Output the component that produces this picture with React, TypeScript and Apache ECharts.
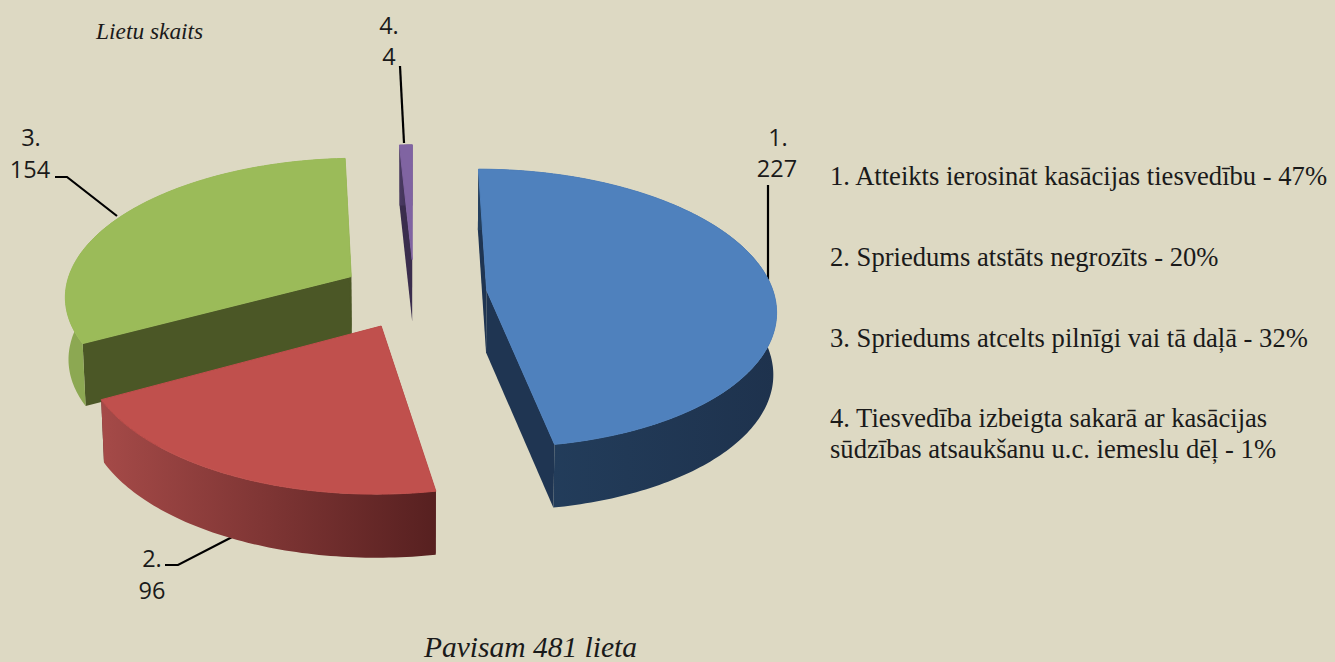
import React, { useEffect, useRef } from "react";
import * as echarts from "echarts";

const sliceNames = ["1.", "2.", "3.", "4."];
const sliceValues = [227, 96, 154, 4];
const legendLines = [
  "1. Atteikts ierosināt kasācijas tiesvedību - 47%",
  "2. Spriedums atstāts negrozīts - 20%",
  "3. Spriedums atcelts pilnīgi vai tā daļā - 32%",
  "4. Tiesvedība izbeigta sakarā ar kasācijas",
  "sūdzības atsaukšanu u.c. iemeslu dēļ - 1%",
];
const legendY = [176, 257, 338, 418, 449];
const topColors = ["#4F81BD", "#C0504D", "#9BBB59", "#8064A2"];
const sideColors = ["#1F3552", "#5A2222", "#4B5726", "#3A2D4D"];
const wallFrom = ["#24405F", "#A54A48", "#8CA852", "#4A3A63"];
const wallTo = ["#1E324D", "#572020", "#8CA852", "#3A2D4D"];
const labelAnchors = [
  [778, 137, 777, 168],
  [152, 558, 152, 590],
  [31, 137, 30, 169],
  [389, 25, 389, 56],
];
const leaders = [
  [[768, 185], [768, 280]],
  [[165, 565], [178, 565], [236, 535]],
  [[55, 177], [67, 177], [117, 216]],
  [[400, 66], [404, 143]],
];

const CX = 414, CY = 293.5, A = 287, B = 137.5, P = 0.128, EXPLODE = 0.255, H = 62, SHRINK = 0.991;
const total = sliceValues.reduce((a, b) => a + b, 0);
const rad = (d: number) => (d * Math.PI) / 180;

function project(U: number, V: number, low = false): number[] {
  const w = 1 - P * V;
  const x = (A * U) / w;
  const y = (B * V) / w;
  if (!low) return [CX + x, CY + y];
  return [CX + x * SHRINK, CY + y + H * Math.pow(w, -0.15)];
}

function renderItem(_: any, api: any) {
  const i = api.value(1);
  const val = api.value(0);
  let acc = 0;
  for (let k = 0; k < i; k++) acc += sliceValues[k];
  const a0 = (acc / total) * 360;
  const a1 = ((acc + val) / total) * 360;
  const mid = rad((a0 + a1) / 2);
  const u0 = EXPLODE * Math.sin(mid);
  const v0 = -EXPLODE * Math.cos(mid);
  const topArc: number[][] = [];
  const botArc: number[][] = [];
  const n = Math.max(2, Math.ceil(a1 - a0));
  for (let s = 0; s <= n; s++) {
    const t = rad(a0 + ((a1 - a0) * s) / n);
    const U = u0 + Math.sin(t);
    const V = v0 - Math.cos(t);
    topArc.push(project(U, V));
    botArc.push(project(U, V, true));
  }
  const apex = project(u0, v0);
  const apexLow = project(u0, v0, true);
  const base = Math.round((v0 + 1) * 1000);
  const first = topArc[0], last = topArc[n];
  const firstLow = botArc[0], lastLow = botArc[n];
  const poly = (points: number[][], fill: any, z2: number, stroke: any) => ({
    type: "polygon",
    z2,
    shape: { points },
    style: { fill, stroke, lineWidth: stroke ? 1 : 0 },
    silent: true,
  });
  return {
    type: "group",
    children: [
      poly([apex, first, firstLow, apexLow], sideColors[i], base, null),
      poly([apex, last, lastLow, apexLow], sideColors[i], base + 1, null),
      poly(
        [...topArc, ...botArc.slice().reverse()],
        new echarts.graphic.LinearGradient(0, 0, 1, 0, [
          { offset: 0, color: wallFrom[i] },
          { offset: 1, color: wallTo[i] },
        ]),
        base + 2,
        null
      ),
      poly([apex, ...topArc], topColors[i], base + 3, topColors[i]),
    ],
  };
}

export default function App() {
  const ref = useRef<HTMLDivElement>(null);
  useEffect(() => {
    const chart = echarts.init(ref.current!, null, { renderer: "svg" });
    const labelFont = { fontFamily: "Open Sans", fontSize: 23.5, fill: "#1a1a1a" };
    const graphics: any[] = [];
    sliceNames.forEach((name, i) => {
      const [x1, y1, x2, y2] = labelAnchors[i];
      graphics.push(
        { type: "text", x: x1, y: y1, style: { ...labelFont, text: name, textAlign: "center", textVerticalAlign: "middle" } },
        { type: "text", x: x2, y: y2, style: { ...labelFont, text: String(sliceValues[i]), textAlign: "center", textVerticalAlign: "middle" } },
        { type: "polyline", shape: { points: leaders[i] }, style: { stroke: "#000", lineWidth: 2.2, fill: "none" } }
      );
    });
    legendLines.forEach((line, i) => {
      graphics.push({
        type: "text", x: 830, y: legendY[i],
        style: { text: line, fontFamily: "Liberation Serif", fontSize: 26.6, fill: "#1a1a1a", textVerticalAlign: "middle" },
      });
    });
    graphics.push(
      { type: "text", x: 96, y: 31, style: { text: "Lietu skaits", fontFamily: "Liberation Serif", fontStyle: "italic", fontSize: 23.4, fill: "#1a1a1a", textVerticalAlign: "middle" } },
      { type: "text", x: 424, y: 647, style: { text: "Pavisam 481 lieta", fontFamily: "Liberation Serif", fontStyle: "italic", fontSize: 29.5, fill: "#1a1a1a", textVerticalAlign: "middle" } }
    );
    chart.setOption({
      animation: false,
      backgroundColor: "#DDD9C3",
      graphic: graphics,
      series: [
        {
          type: "custom",
          coordinateSystem: "none",
          silent: true,
          renderItem,
          data: sliceValues.map((v, i) => [v, i]),
        },
      ],
    });
    return () => chart.dispose();
  }, []);
  return <div ref={ref} style={{ position: "fixed", left: 0, top: 0, width: 1335, height: 662 }} />;
}
